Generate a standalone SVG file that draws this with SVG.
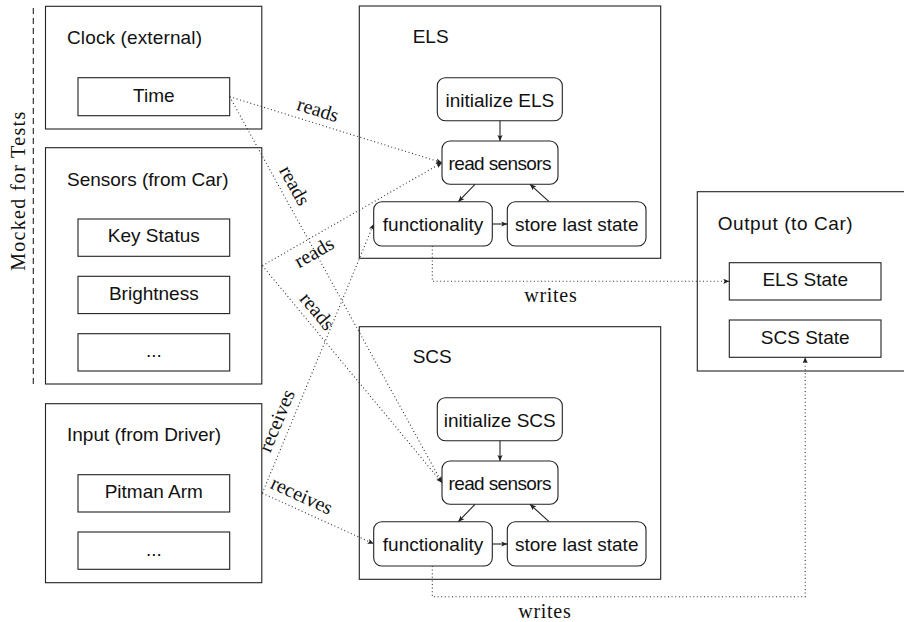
<svg xmlns="http://www.w3.org/2000/svg" width="904" height="622" viewBox="0 0 904 622">
<defs>
<style>
.box{fill:#fff;stroke:#222;stroke-width:1.1}
.rbox{fill:#fff;stroke:#222;stroke-width:1.1}
.t{font-family:"Liberation Sans",Arial,sans-serif;font-size:19px;fill:#111}
.c{text-anchor:middle}
.s{font-family:"Liberation Serif","Times New Roman",serif;font-size:20px;fill:#111;text-anchor:middle}
.dot{fill:none;stroke:#333;stroke-width:1.1;stroke-dasharray:1 2.6}
.sol{fill:none;stroke:#222;stroke-width:1.1}
</style>
<marker id="arr" markerWidth="7" markerHeight="6" refX="6" refY="3" orient="auto" markerUnits="userSpaceOnUse">
<path d="M0,0.4 L6,3 L0,5.6 L1.3,3 z" fill="#222"/>
</marker>
</defs>
<rect width="904" height="622" fill="#fff"/>

<g id="mocked">
<line x1="33.3" y1="8" x2="33.3" y2="385" stroke="#222" stroke-width="1.1" stroke-dasharray="6 4"/>
<text class="s" font-size="21" textLength="159" transform="translate(25,191.3) rotate(-90)">Mocked for Tests</text>
</g>

<g id="clock">
<rect class="box" x="45.5" y="6.3" width="216.3" height="122.7"/>
<text class="t" x="67" y="44" textLength="135">Clock (external)</text>
</g>
<g id="time">
<rect class="box" x="78" y="77.7" width="151.7" height="38"/>
<text class="t c" x="153.8" y="102">Time</text>
</g>

<g id="sensors">
<rect class="box" x="45.5" y="147.7" width="216.3" height="236.3"/>
<text class="t" x="67" y="185.7">Sensors (from Car)</text>
</g>
<g id="keystatus">
<rect class="box" x="78" y="219" width="151.7" height="37.3"/>
<text class="t c" x="153.8" y="242">Key Status</text>
</g>
<g id="brightness">
<rect class="box" x="78" y="276.3" width="151.7" height="37.3"/>
<text class="t c" x="153.8" y="299.5">Brightness</text>
</g>
<g id="sensors-more">
<rect class="box" x="78" y="333.7" width="151.7" height="37.3"/>
<text class="t c" x="153.8" y="357">...</text>
</g>

<g id="input">
<rect class="box" x="45.5" y="403.7" width="216.3" height="179"/>
<text class="t" x="67" y="441">Input (from Driver)</text>
</g>
<g id="pitman">
<rect class="box" x="78" y="474.7" width="151.7" height="37.3"/>
<text class="t c" x="153.8" y="498">Pitman Arm</text>
</g>
<g id="input-more">
<rect class="box" x="78" y="532" width="151.7" height="37.3"/>
<text class="t c" x="153.8" y="555.5">...</text>
</g>

<g id="els">
<rect class="box" x="359.3" y="6" width="301.4" height="252.3"/>
<text class="t" x="412.7" y="43.3">ELS</text>
</g>
<g id="els-init">
<rect class="rbox" x="437.3" y="77.7" width="125" height="43" rx="8"/>
<text class="t c" x="499.8" y="106.5">initialize ELS</text>
</g>
<g id="els-read">
<rect class="rbox" x="442" y="141" width="116" height="43.3" rx="8"/>
<text class="t c" x="500" y="170" textLength="103">read sensors</text>
</g>
<g id="els-func">
<rect class="rbox" x="373.7" y="201.7" width="118.6" height="44.3" rx="8"/>
<text class="t c" x="433" y="230.5">functionality</text>
</g>
<g id="els-store">
<rect class="rbox" x="507.3" y="201.7" width="138.7" height="44.3" rx="8"/>
<text class="t c" x="576.7" y="230.5">store last state</text>
</g>

<g id="scs">
<rect class="box" x="359.3" y="326.7" width="301.4" height="252.6"/>
<text class="t" x="412.7" y="363.3">SCS</text>
</g>
<g id="scs-init">
<rect class="rbox" x="437.3" y="397.7" width="125" height="43" rx="8"/>
<text class="t c" x="499.8" y="426.5">initialize SCS</text>
</g>
<g id="scs-read">
<rect class="rbox" x="442" y="461" width="116" height="43.3" rx="8"/>
<text class="t c" x="500" y="490" textLength="103">read sensors</text>
</g>
<g id="scs-func">
<rect class="rbox" x="373.7" y="521.7" width="118.6" height="44.3" rx="8"/>
<text class="t c" x="433" y="550.5">functionality</text>
</g>
<g id="scs-store">
<rect class="rbox" x="507.3" y="521.7" width="138.7" height="44.3" rx="8"/>
<text class="t c" x="576.7" y="550.5">store last state</text>
</g>

<g id="output">
<rect class="box" x="697.3" y="191.7" width="217" height="179.3"/>
<text class="t" x="717.7" y="230" textLength="135">Output (to Car)</text>
</g>
<g id="els-state">
<rect class="box" x="729.3" y="262.7" width="151.7" height="37.3"/>
<text class="t c" x="805.2" y="286">ELS State</text>
</g>
<g id="scs-state">
<rect class="box" x="729.3" y="320" width="151.7" height="37.3"/>
<text class="t c" x="805.2" y="344">SCS State</text>
</g>

<g id="connectors">
<line class="sol" x1="500" y1="120.7" x2="500" y2="141" marker-end="url(#arr)"/>
<line class="sol" x1="475" y1="184.3" x2="458.3" y2="201.7" marker-end="url(#arr)"/>
<line class="sol" x1="549" y1="201.7" x2="530" y2="184.3" marker-end="url(#arr)"/>
<line class="sol" x1="492.3" y1="224" x2="507.3" y2="224" marker-end="url(#arr)"/>

<line class="sol" x1="500" y1="440.7" x2="500" y2="461" marker-end="url(#arr)"/>
<line class="sol" x1="475" y1="504.3" x2="458.3" y2="521.7" marker-end="url(#arr)"/>
<line class="sol" x1="549" y1="521.7" x2="530" y2="504.3" marker-end="url(#arr)"/>
<line class="sol" x1="492.3" y1="544" x2="507.3" y2="544" marker-end="url(#arr)"/>

<line class="dot" x1="229.7" y1="96.7" x2="442" y2="162.7" marker-end="url(#arr)"/>
<line class="dot" x1="229.7" y1="96.7" x2="442" y2="482.7" marker-end="url(#arr)"/>
<line class="dot" x1="262.3" y1="265.7" x2="442" y2="162.7" marker-end="url(#arr)"/>
<line class="dot" x1="262.3" y1="265.7" x2="442" y2="482.7" marker-end="url(#arr)"/>
<line class="dot" x1="262.3" y1="493.2" x2="373.7" y2="224" marker-end="url(#arr)"/>
<line class="dot" x1="262.3" y1="493.2" x2="373.7" y2="543.8" marker-end="url(#arr)"/>
<path class="dot" d="M432.3,246 V281.3 H729.3" marker-end="url(#arr)"/>
<path class="dot" d="M432.3,566 V596.7 H805.2 V357.3" marker-end="url(#arr)"/>

<text class="s" transform="translate(316,116) rotate(17.3)">reads</text>
<text class="s" transform="translate(289,188.7) rotate(61.2)">reads</text>
<text class="s" transform="translate(317.2,257.9) rotate(-29.8)">reads</text>
<text class="s" transform="translate(312.3,315.4) rotate(50.4)">reads</text>
<text class="s" transform="translate(282.7,423.2) rotate(-67.5)">receives</text>
<text class="s" transform="translate(299,501.4) rotate(24.4)">receives</text>
<text class="s" x="550.5" y="301.7" textLength="52.4">writes</text>
<text class="s" x="544.5" y="617.7" textLength="52.4">writes</text>
</g>
</svg>
